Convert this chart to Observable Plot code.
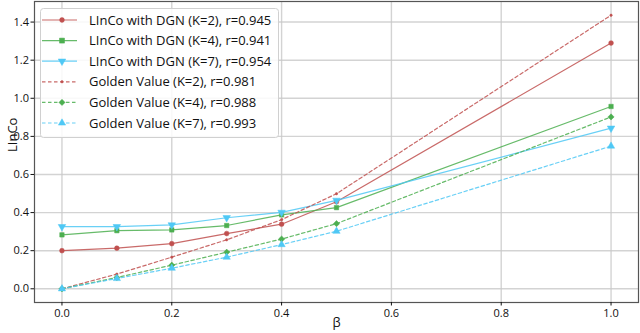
<!DOCTYPE html>
<html>
<head>
<meta charset="utf-8">
<script src="https://cdn.jsdelivr.net/npm/d3@7"></script>
<script src="https://cdn.jsdelivr.net/npm/@observablehq/plot@0.6"></script>
<style>
  body { margin: 0; background: #fff; }
  #wrap { position: relative; width: 640px; height: 333px; font-family: "Open Sans", sans-serif; }
  #legend { position: absolute; left: 40px; top: 8px; }
</style>
</head>
<body>
<div id="wrap"></div>
<script>
const xs = [0, 0.1, 0.2, 0.3, 0.4, 0.5, 1.0];
const lincoK2 = [0.200, 0.213, 0.237, 0.290, 0.339, 0.457, 1.290];
const lincoK4 = [0.283, 0.305, 0.309, 0.332, 0.388, 0.426, 0.957];
const lincoK7 = [0.326, 0.326, 0.335, 0.373, 0.401, 0.464, 0.843];
const goldK2 = [0.000, 0.077, 0.166, 0.257, 0.363, 0.499, 1.436];
const goldK4 = [0.000, 0.059, 0.124, 0.192, 0.261, 0.342, 0.902];
const goldK7 = [0.000, 0.054, 0.108, 0.166, 0.232, 0.302, 0.749];
const seriesLabels = [
  "LInCo with DGN (K=2), r=0.945",
  "LInCo with DGN (K=4), r=0.941",
  "LInCo with DGN (K=7), r=0.954",
  "Golden Value (K=2), r=0.981",
  "Golden Value (K=4), r=0.988",
  "Golden Value (K=7), r=0.993"
];
const xTicks = [0, 0.2, 0.4, 0.6, 0.8, 1.0];
const yTicks = [0, 0.2, 0.4, 0.6, 0.8, 1.0, 1.2, 1.4];

const RED = "#c0504f", GREEN = "#4caf50", CYAN = "#4fc8f5";
const sqrt3 = Math.sqrt(3);
const triangleDown = {
  draw(context, size) {
    const y = -Math.sqrt(size / (sqrt3 * 3));
    context.moveTo(0, -y * 2);
    context.lineTo(-sqrt3 * y, y);
    context.lineTo(sqrt3 * y, y);
    context.closePath();
  }
};
const styles = [
  {values: lincoK2, color: RED, dash: null, symbol: "circle", r: 2.4},
  {values: lincoK4, color: GREEN, dash: null, symbol: "square", r: 2.5},
  {values: lincoK7, color: CYAN, dash: null, symbol: triangleDown, r: 2.8},
  {values: goldK2, color: RED, dash: "3.5,2.5", symbol: "circle", r: 1.2},
  {values: goldK4, color: GREEN, dash: "3.5,2.5", symbol: "diamond2", r: 2.8},
  {values: goldK7, color: CYAN, dash: "3.5,2.5", symbol: "triangle", r: 2.7}
];

const marks = [
  Plot.gridX(xTicks, {stroke: "#c8c8c8", strokeOpacity: 0.8, strokeWidth: 1.4}),
  Plot.gridY(yTicks, {stroke: "#c8c8c8", strokeOpacity: 0.8, strokeWidth: 1.4}),
  Plot.frame({stroke: "#555", strokeWidth: 1.2}),
  Plot.axisX(xTicks, {tickFormat: d3.format(".1f"), tickSize: 3.5, tickPadding: 3, label: null, fontSize: 11, fill: "#111"}),
  Plot.axisY(yTicks, {tickFormat: d3.format(".1f"), tickSize: 3.5, tickPadding: 2, label: null, fontSize: 11, fill: "#111"}),
  Plot.text(["β"], {frameAnchor: "bottom", dy: 24, fontSize: 13, fill: "#111"}),
  Plot.text(["LInCo"], {frameAnchor: "left", dx: -22, rotate: -90, fontSize: 13, fill: "#111"})
];
styles.forEach((s, i) => {
  const data = xs.map((x, j) => ({x, y: s.values[j]}));
  marks.push(Plot.line(data, {x: "x", y: "y", stroke: s.color, strokeWidth: 1.2, strokeOpacity: 0.85, strokeDasharray: s.dash}));
  marks.push(Plot.dot(data, {x: "x", y: "y", fill: s.color, stroke: s.color, strokeWidth: 0.5, r: s.r, symbol: () => s.symbol}));
});

const chart = Plot.plot({
  width: 640, height: 333,
  marginLeft: 34, marginRight: 2, marginTop: 1, marginBottom: 31,
  style: {fontFamily: "Open Sans, sans-serif", fontSize: "11px", color: "#111", background: "#fff"},
  x: {domain: [-0.05, 1.05]},
  y: {domain: [-0.072, 1.508]},
  marks
});
const wrap = document.getElementById("wrap");
wrap.appendChild(chart);

// legend
const lw = 238, lh = 129;
const leg = d3.select(wrap).append("svg").attr("id", "legend").attr("width", lw + 2).attr("height", lh + 2);
leg.append("rect").attr("x", 0.5).attr("y", 0.5).attr("width", lw).attr("height", lh).attr("rx", 3)
  .attr("fill", "#fff").attr("fill-opacity", 0.85).attr("stroke", "#d0d0d0");
const symMap = {circle: d3.symbolCircle, square: d3.symbolSquare, diamond2: d3.symbolDiamond2, triangle: d3.symbolTriangle};
styles.forEach((s, i) => {
  const cy = 12 + i * 20.6;
  const g = leg.append("g").attr("transform", `translate(0,${cy})`);
  g.append("line").attr("x1", 2).attr("x2", 37).attr("stroke", s.color).attr("stroke-width", 1.2)
    .attr("stroke-opacity", 0.85).attr("stroke-dasharray", s.dash);
  const sym = typeof s.symbol === "string" ? symMap[s.symbol] : s.symbol;
  const size = s.symbol === "square" ? 4 * s.r * s.r : Math.PI * s.r * s.r;
  g.append("path").attr("transform", "translate(22,0)").attr("d", d3.symbol(sym, size)())
    .attr("fill", s.color).attr("stroke", s.color).attr("stroke-width", 0.5);
  g.append("text").attr("x", 49).attr("dy", "0.35em").attr("font-size", 13).attr("fill", "#111")
    .attr("font-family", "Open Sans, sans-serif").text(seriesLabels[i]);
});
</script>
</body>
</html>
